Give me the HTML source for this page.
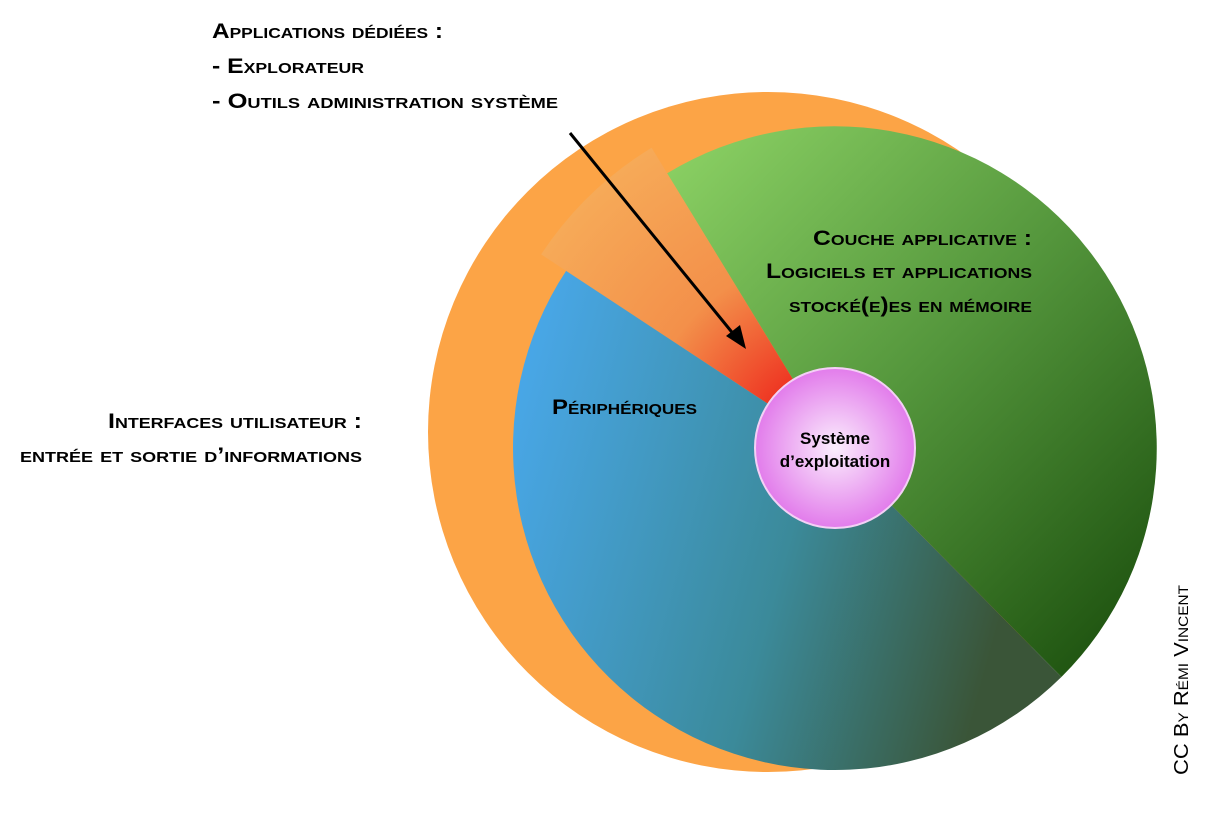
<!DOCTYPE html>
<html><head><meta charset="utf-8"><style>
body{margin:0;background:#fff;width:1206px;height:808px;overflow:hidden}
svg text{font-family:"Liberation Sans",sans-serif;font-weight:bold;font-variant:small-caps;fill:#000}
</style></head><body>
<svg width="1206" height="808" viewBox="0 0 1206 808">
<defs>
<linearGradient id="bl" x1="0" y1="0" x2="1" y2="0.25">
<stop offset="0" stop-color="#4aaaf0"/><stop offset="0.6" stop-color="#3b8a9a"/><stop offset="1" stop-color="#3a5538"/></linearGradient>
<linearGradient id="gr" x1="0" y1="0" x2="0.9" y2="1">
<stop offset="0" stop-color="#8ed466"/><stop offset="0.5" stop-color="#54963c"/><stop offset="1" stop-color="#1c500e"/></linearGradient>
<radialGradient id="rd" cx="835" cy="448" r="352" gradientUnits="userSpaceOnUse">
<stop offset="0.2" stop-color="#ee3020"/><stop offset="0.55" stop-color="#f3904a"/><stop offset="1" stop-color="#f6aa58"/></radialGradient>
<radialGradient id="pk" cx="0.5" cy="0.5" r="0.5">
<stop offset="0" stop-color="#fbeefd"/><stop offset="1" stop-color="#e27ceb"/></radialGradient>
</defs>
<circle cx="768" cy="432" r="340" fill="#fca446"/>
<path d="M835 448 L541.1 254.4 A352 352 0 0 1 651.6 147.7 Z" fill="url(#rd)"/>
<path d="M835 448 L667.2 173.3 A322 322 0 0 1 1061.4 677 Z" fill="url(#gr)"/>
<path d="M835 448 L1061.4 677 A322 322 0 0 1 566.1 270.9 Z" fill="url(#bl)"/>
<circle cx="835" cy="448" r="80" fill="url(#pk)" stroke="#f4d0f6" stroke-width="2"/>
<line x1="570" y1="133" x2="735" y2="336" stroke="#000" stroke-width="3"/>
<polygon points="746,349 726,336 740,325" fill="#000"/>
<g font-size="21" lengthAdjust="spacingAndGlyphs">
<text x="212" y="38" textLength="231" lengthAdjust="spacingAndGlyphs">Applications dédiées :</text>
<text x="212" y="73" textLength="152" lengthAdjust="spacingAndGlyphs">- Explorateur</text>
<text x="212" y="108" textLength="346" lengthAdjust="spacingAndGlyphs">- Outils administration système</text>
<text x="813" y="245" textLength="219" lengthAdjust="spacingAndGlyphs">Couche applicative :</text>
<text x="766" y="278" textLength="266" lengthAdjust="spacingAndGlyphs">Logiciels et applications</text>
<text x="789" y="312" textLength="243" lengthAdjust="spacingAndGlyphs">stocké(e)es en mémoire</text>
<text x="108" y="428" textLength="254" lengthAdjust="spacingAndGlyphs">Interfaces utilisateur :</text>
<text x="20" y="462" textLength="342" lengthAdjust="spacingAndGlyphs">entrée et sortie d’informations</text>
<text x="552" y="414" textLength="145" lengthAdjust="spacingAndGlyphs">Périphériques</text>
</g>
<text x="835" y="444" text-anchor="middle" font-size="17" style="font-variant:normal">Système</text>
<text x="835" y="467" text-anchor="middle" font-size="17" style="font-variant:normal">d’exploitation</text>
<text transform="translate(1188,775) rotate(-90)" font-size="20" textLength="190" lengthAdjust="spacingAndGlyphs" style="font-weight:normal">CC By Rémi Vincent</text>
</svg>
</body></html>
